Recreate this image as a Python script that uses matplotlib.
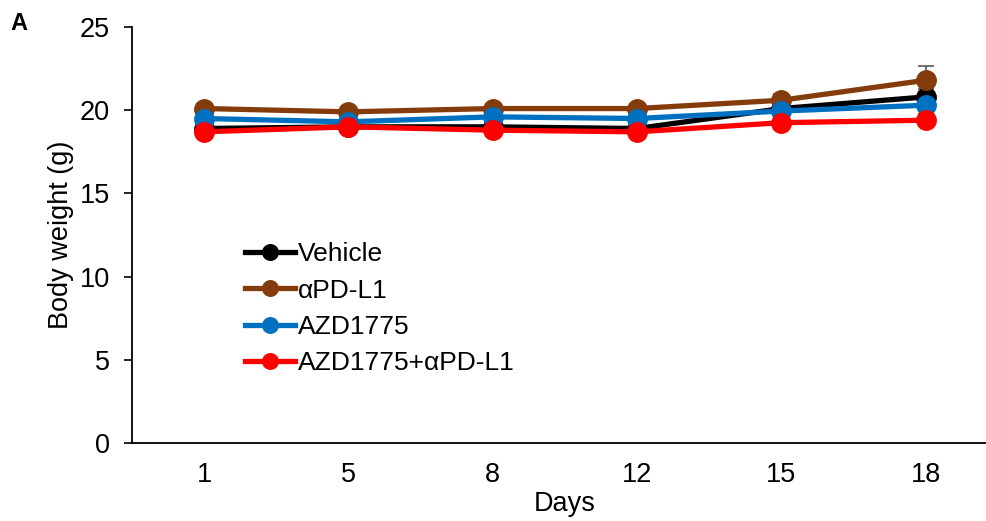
import matplotlib
matplotlib.use("Agg")
import matplotlib.pyplot as plt
import numpy as np

plt.rcParams['font.family'] = ['Liberation Sans', 'DejaVu Sans']

days = ["1", "5", "8", "12", "15", "18"]
series_names = ["Vehicle", "αPD-L1", "AZD1775", "AZD1775+αPD-L1"]
vehicle = [18.9, 19.0, 19.0, 18.9, 20.1, 20.8]
apdl1 = [20.1, 19.9, 20.1, 20.1, 20.6, 21.8]
azd = [19.5, 19.3, 19.6, 19.5, 19.95, 20.3]
combo = [18.7, 19.0, 18.8, 18.7, 19.25, 19.4]
err_vehicle = [0.3, 0.3, 0.3, 0.3, 0.4, 0.5]
err_apdl1 = [0.3, 0.3, 0.3, 0.3, 0.4, 0.85]
err_azd = [0.3, 0.3, 0.3, 0.3, 0.4, 0.4]
err_combo = [0.3, 0.3, 0.3, 0.3, 0.4, 0.4]
colors = ["#000000", "#843C0C", "#0070C0", "#FF0000"]

fig = plt.figure(figsize=(9.87, 5.21), dpi=100)
ax = fig.add_axes([132/987, 78/521, (998-132)/987, (443-27)/521])

x = np.arange(len(days))
data = [vehicle, apdl1, azd, combo]
errs = [err_vehicle, err_apdl1, err_azd, err_combo]
for vals, e, c, name in zip(data, errs, colors, series_names):
    ax.errorbar(x, vals, yerr=[np.zeros(len(e)), e], fmt='none', ecolor='#595959',
                elinewidth=1.2, capsize=6, capthick=1.2, zorder=1)
for vals, c, name in zip(data, colors, series_names):
    ax.plot(x, vals, color=c, lw=3.8, marker='o', markersize=14, label=name, zorder=2)

ax.set_xlim(-0.5, len(days) - 0.5)
ax.set_ylim(0, 25)
ax.set_yticks([0, 5, 10, 15, 20, 25])
ax.set_xticks(x)
ax.set_xticklabels(days)
ax.tick_params(axis='x', length=0, labelsize=19.5, pad=14)
ax.tick_params(axis='y', length=6, width=1.2, labelsize=19.5, direction='out', pad=10)
for s in ['top', 'right']:
    ax.spines[s].set_visible(False)
for s in ['left', 'bottom']:
    ax.spines[s].set_linewidth(1.3)
    ax.spines[s].set_color('#000000')

ax.set_xlabel("Days", fontsize=19.5, labelpad=2)
ax.set_ylabel("Body weight (g)", fontsize=19.5, labelpad=4)

leg = ax.legend(loc='upper left', bbox_to_anchor=(0.118, 0.508), frameon=False,
                fontsize=19, handlelength=1.9, handletextpad=0.1, markerscale=0.8,
                labelspacing=0.47, borderaxespad=0)

fig.text(10/987, 1 - 30/521, "A", fontsize=17, fontweight='bold')

fig.savefig("out.png", dpi=100)
